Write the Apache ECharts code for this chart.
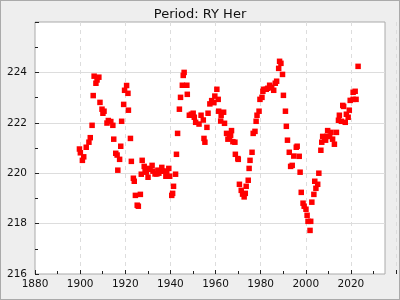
<!DOCTYPE html>
<html>
<head>
<meta charset="utf-8">
<script src="https://cdn.jsdelivr.net/npm/echarts@6/dist/echarts.min.js"></script>
<style>
html,body{margin:0;padding:0;}
#c{width:400px;height:300px;box-sizing:border-box;border:1px solid #aaaaaa;background:#eeeeee;}
</style>
</head>
<body>
<div id="c"></div>
<script>
var titleText = 'Period: RY Her';
var xTickLabels = [1880, 1900, 1920, 1940, 1960, 1980, 2000, 2020];
var yTickLabels = [216, 218, 220, 222, 224];
var years = [
1899.7,1900.1,1901.0,1901.6,1902.7,1903.9,1904.5,1905.3,1905.8,1906.2,
1907.0,1907.5,1908.3,1908.8,1909.7,1910.1,1910.6,1911.9,1912.5,1913.6,
1914.5,1914.9,1915.8,1916.4,1916.7,1917.5,1918.0,1918.4,1919.3,1919.7,
1920.6,1921.2,1921.4,1922.3,1922.7,1923.6,1924.0,1924.5,1925.3,1925.8,
1926.7,1927.1,1927.5,1928.4,1928.8,1929.3,1930.1,1930.1,1931.0,1931.9,
1932.3,1933.2,1934.0,1934.5,1934.9,1935.8,1936.2,1936.7,1937.5,1938.0,
1938.4,1939.3,1939.7,1940.6,1941.0,1941.4,1942.3,1942.7,1943.2,1944.0,
1944.5,1945.3,1945.7,1946.1,1947.3,1947.5,1948.4,1949.3,1950.1,1950.6,
1951.2,1952.7,1953.6,1954.6,1954.9,1955.3,1956.2,1956.7,1957.5,1958.3,
1959.3,1959.7,1960.6,1961.2,1961.4,1962.5,1962.3,1963.6,1964.0,1964.9,
1965.5,1966.2,1966.7,1967.1,1967.7,1968.6,1968.8,1969.9,1970.1,1970.6,
1971.4,1972.0,1972.7,1973.2,1973.6,1974.5,1974.9,1975.3,1976.2,1976.7,
1977.5,1978.0,1978.4,1979.3,1979.7,1980.6,1981.0,1981.4,1982.5,1983.2,
1984.0,1984.9,1985.8,1986.5,1987.1,1988.0,1988.4,1989.0,1989.7,1990.1,
1991.0,1991.4,1991.9,1992.7,1993.3,1994.0,1994.7,1995.8,1996.2,1997.1,
1997.5,1998.0,1998.8,1999.3,2000.1,2000.6,2001.0,2002.2,2001.9,2002.7,
2003.6,2004.0,2004.5,2005.3,2005.8,2006.7,2007.1,2007.5,2008.4,2008.8,
2009.3,2009.7,2010.6,2011.2,2011.9,2012.7,2013.6,2014.5,2014.9,2015.8,
2016.4,2016.8,2017.5,2018.0,2018.8,2019.3,2019.7,2021.0,2021.9,2021.0,
2022.3,2023.2
];
var periods = [
220.96,220.81,220.51,220.65,221.03,221.23,221.41,221.90,223.08,223.85,
223.57,223.70,223.81,222.81,222.54,222.38,222.46,221.99,222.09,222.05,
221.90,221.35,220.79,220.72,220.12,220.55,221.07,222.06,222.73,223.29,
223.48,223.17,222.50,221.38,220.47,219.80,219.68,219.12,218.73,218.69,
219.16,219.96,220.51,220.27,220.12,220.04,219.84,220.19,220.15,220.31,
220.08,219.97,219.97,220.12,220.00,220.08,220.23,220.08,220.08,219.88,
220.00,220.19,219.88,219.12,219.20,219.48,219.96,220.75,221.58,222.54,
223.01,223.49,223.88,224.00,223.49,223.13,222.30,222.34,222.38,222.22,
222.02,221.95,222.30,222.11,221.38,221.23,221.82,222.38,222.75,222.88,
222.80,223.06,223.33,222.93,222.46,222.30,222.07,222.42,221.98,221.58,
221.35,221.42,221.50,221.69,221.25,221.23,220.75,220.58,220.55,219.56,
219.32,219.17,219.06,219.20,219.48,219.72,220.19,220.51,220.83,221.58,
221.66,222.06,222.30,222.46,222.93,223.01,223.25,223.33,223.33,223.37,
223.49,223.41,223.29,223.57,223.65,224.16,224.44,224.36,223.92,223.09,
222.46,221.86,221.31,220.83,220.27,220.31,220.68,221.03,221.07,220.67,
220.04,219.24,218.81,218.69,218.57,218.33,218.09,218.09,217.73,218.85,
219.16,219.68,219.40,219.56,220.00,220.91,221.23,221.46,221.42,221.31,
221.46,221.69,221.46,221.62,221.35,221.15,221.62,222.10,222.30,222.06,
222.69,222.65,222.02,222.34,222.22,222.50,222.89,223.21,223.25,222.93,
222.93,224.24
];

var points = years.map(function (y, i) { return [y, periods[i]]; });
var labelFont = 'DejaVu Sans';
var chart = echarts.init(document.getElementById('c'), null, {renderer: 'canvas'});
chart.setOption({
  animation: false,
  backgroundColor: 'transparent',
  title: {
    text: titleText, left: 'center', top: 2,
    textStyle: {fontFamily: labelFont, fontSize: 13, fontWeight: 'normal', color: '#111'}
  },
  grid: [
    {left: 34, top: 21, width: 350, height: 252, show: true, backgroundColor: '#ffffff', borderColor: '#aaaaaa', borderWidth: 1},
    {left: 34, top: 21, width: 368, height: 252, show: false}
  ],
  xAxis: [
    {gridIndex: 0, type: 'value', min: 1880, max: 2032, show: false},
    {gridIndex: 1, type: 'value', min: 1880, max: 2040, interval: 20,
      axisLine: {show: false},
      axisTick: {show: true, inside: true, length: 4, lineStyle: {color: '#222'}},
      minorTick: {show: true, splitNumber: 2, length: 3, lineStyle: {color: '#222'}},
      splitLine: {show: true, showMinLine: false, lineStyle: {color: '#dddddd', type: [4, 4]}},
      axisLabel: {
        margin: 5, fontFamily: labelFont, fontSize: 10.5, color: '#111',
        formatter: function (v) { return xTickLabels.indexOf(v) >= 0 ? String(v) : ''; }
      }
    }
  ],
  yAxis: [
    {gridIndex: 0, type: 'value', min: 216, max: 226, interval: 2,
      axisLine: {show: false},
      axisTick: {show: true, inside: true, length: 4, lineStyle: {color: '#222'}},
      minorTick: {show: true, splitNumber: 2, length: 3, lineStyle: {color: '#222'}},
      splitLine: {show: true, showMinLine: false, showMaxLine: false, lineStyle: {color: '#dddddd', width: 1}},
      axisLabel: {
        margin: 8, fontFamily: labelFont, fontSize: 10.5, color: '#111',
        formatter: function (v) { return yTickLabels.indexOf(v) >= 0 ? String(v) : ''; }
      }
    },
    {gridIndex: 1, type: 'value', min: 216, max: 226, show: false}
  ],
  series: [{
    type: 'scatter',
    xAxisIndex: 1, yAxisIndex: 1,
    symbol: 'rect', symbolSize: 5.5,
    clip: false,
    itemStyle: {color: '#ff0000', opacity: 1},
    data: points
  }]
});
</script>
</body>
</html>
